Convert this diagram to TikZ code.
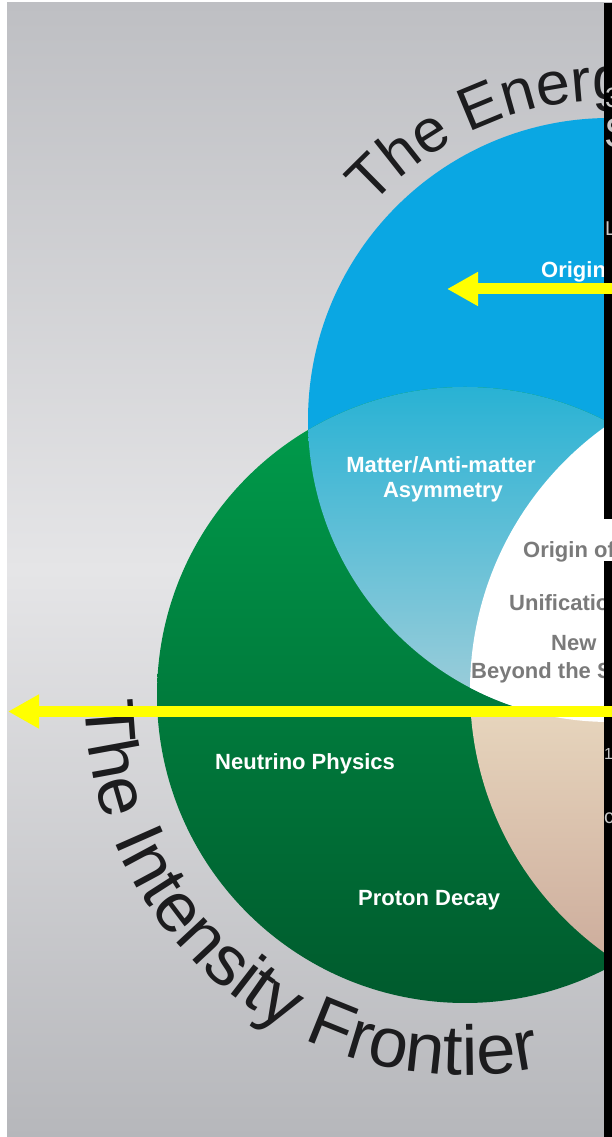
\documentclass[tikz,border=0pt]{standalone}
\usepackage{fontspec}
\setmainfont{Liberation Sans}
\usetikzlibrary{arrows.meta,decorations.text,calc}

\definecolor{bgtop}{RGB}{190,191,195}
\definecolor{bgmid}{RGB}{229,229,231}
\definecolor{bgbot}{RGB}{182,183,187}
\definecolor{energyblue}{RGB}{10,167,227}
\definecolor{greentop}{RGB}{0,158,76}
\definecolor{greenbot}{RGB}{0,90,45}
\definecolor{tealtop}{RGB}{40,178,212}
\definecolor{tealbot}{RGB}{165,207,218}
\definecolor{tantop}{RGB}{230,212,188}
\definecolor{tanbot}{RGB}{200,165,150}
\definecolor{titleink}{RGB}{28,28,30}
\definecolor{labelgray}{RGB}{122,122,122}
\definecolor{fraggray}{RGB}{200,200,200}
\definecolor{marker}{RGB}{255,255,0}

\newcommand\energyfont{\fontsize{61}{61}\selectfont\color{titleink}}
\newcommand\intensityfont{\fontsize{70.5}{70.5}\selectfont\color{titleink}}

\begin{document}
\begin{tikzpicture}[x=1pt,y=1pt,
  label/.style={font=\fontsize{22}{26}\selectfont\bfseries, inner sep=0pt, anchor=base west},
  whitelabel/.style={label, text=white},
  graylabel/.style={label, text=labelgray},
  pointer/.style={line width=11pt, draw=marker, -{Triangle[length=31pt,width=32pt]}},
  fragment/.style={text=fraggray, inner sep=0pt, anchor=base west}]

\useasboundingbox (0,0) rectangle (612,1137);
\clip (0,0) rectangle (612,1137);

% page and backdrop
\fill[white] (0,0) rectangle (612,1137);
\shade[top color=bgtop, bottom color=bgbot, middle color=bgmid] (7,0) rectangle (612,1134);

% circle centres
\coordinate (energy) at (610,717);
\coordinate (intensity) at (465,442);
\coordinate (cosmic) at (794,447);

% the frontiers
\fill[energyblue] (energy) circle[radius=302];
\shade[top color=greentop, bottom color=greenbot] (intensity) circle[radius=308];

% energy / intensity overlap
\begin{scope}
  \clip (energy) circle[radius=302];
  \clip (intensity) circle[radius=308];
  \shade[top color=tealtop, bottom color=tealbot] (300,415) rectangle (612,752);
\end{scope}

% intensity / cosmic overlap
\begin{scope}
  \clip (intensity) circle[radius=308];
  \clip (cosmic) circle[radius=324];
  \shade[top color=tantop, bottom color=tanbot] (450,130) rectangle (612,420);
\end{scope}

% common core
\begin{scope}
  \clip (energy) circle[radius=302];
  \clip (intensity) circle[radius=308];
  \fill[white] (cosmic) circle[radius=324];
\end{scope}

% region labels
\node[whitelabel] (originblue) at (541,859) {Origin};
\node[whitelabel, anchor=base] (matter) at (441,664) {Matter/Anti-matter};
\node[whitelabel, anchor=base] (asym) at (443,639) {Asymmetry};
\node[graylabel] (mass) at (523,579) {Origin of};
\node[graylabel] (unif) at (509,526) {Unificatio};
\node[graylabel] (newphys) at (551,486) {New};
\node[graylabel] (beyond) at (471,458) {Beyond the S};
\node[whitelabel] (neutrino) at (215,367) {Neutrino Physics};
\node[whitelabel] (proton) at (358,231) {Proton Decay};

% curved titles
\path[decorate, decoration={text along path, text align=left,
    text={|\energyfont|The Energ}}]
  ($(energy)+(138:320)$) arc[start angle=138, end angle=60, radius=320];
\path[decorate, decoration={text along path, text align=left,
    text={|\intensityfont|The Intensity Frontier}}]
  ($(intensity)+(181:380)$) arc[start angle=181, end angle=300, radius=380];

% dark band on the right edge
\fill[black] (604,618) rectangle (612,1134);
\fill[black] (604,0) rectangle (612,576);
\node[fragment, font=\fontsize{28}{28}\selectfont] (frag1) at (605,1029) {3};
\node[fragment, font=\fontsize{42}{42}\selectfont] (frag2) at (604,989) {S};
\node[fragment, font=\fontsize{20}{20}\selectfont] (frag3) at (605,901) {L};
\node[fragment, font=\fontsize{16}{16}\selectfont] (frag4) at (604,377) {1};
\node[fragment, font=\fontsize{20}{20}\selectfont] (frag5) at (604,313) {c};

% pointers
\coordinate (p1from) at (620,848);
\coordinate (p1to) at (447,848);
\draw[pointer] (p1from) -- (p1to);
\coordinate (p2from) at (620,425.5);
\coordinate (p2to) at (8,425.5);
\draw[pointer] (p2from) -- (p2to);
\end{tikzpicture}
\end{document}
